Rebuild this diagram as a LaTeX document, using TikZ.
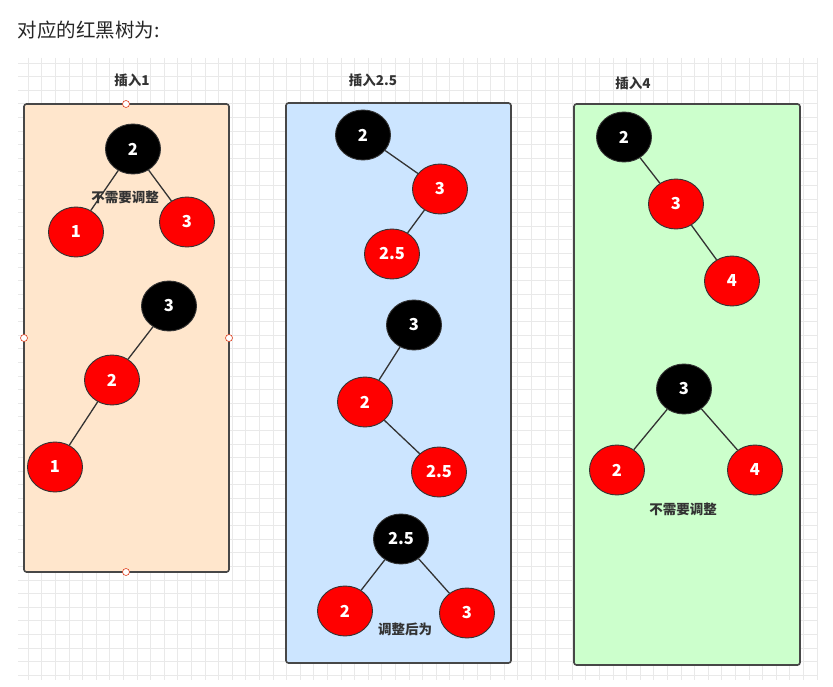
\documentclass[tikz,border=0pt]{standalone}
\usepackage{fontspec}
\setmainfont{Noto Sans CJK SC}
\usetikzlibrary{shapes.geometric}
\definecolor{peach}{HTML}{FFE6CC}
\definecolor{lblue}{HTML}{CCE5FF}
\definecolor{lgreen}{HTML}{CCFFCC}
\definecolor{edgec}{HTML}{333333}
\definecolor{gridc}{HTML}{E9E9E9}
\definecolor{labc}{HTML}{333333}
\tikzset{
  gridline/.style={draw=gridc, line width=0.6pt},
  panel/.style={draw=edgec!90, line width=1.6pt, rounded corners=2.5pt},
  rb/.style={ellipse, draw=edgec, line width=0.9pt, minimum width=55pt, minimum height=50pt, inner sep=0pt, text=white, font=\bfseries\fontsize{16.5}{16.5}\selectfont},
  blk/.style={rb, fill=black},
  red/.style={rb, fill=red},
  tedge/.style={draw=edgec, line width=1.3pt},
  lab/.style={text=labc, font=\bfseries\fontsize{13.5}{13.5}\selectfont},
  handle/.style={circle, draw=red!50!brown, fill=white, line width=0.6pt, minimum size=7pt, inner sep=0pt}
}
\begin{document}
\begin{tikzpicture}[x=1pt,y=-1pt]
\useasboundingbox (0,0) rectangle (833,687);
\fill[white] (0,0) rectangle (833,687);
% grid
\foreach \i in {0,...,58} {\draw[gridline] ({28+\i*13.6},58) -- ({28+\i*13.6},680);}
\foreach \j in {0,...,45} {\draw[gridline] (18,{63+\j*13.6}) -- (818,{63+\j*13.6});}
% title
\node[anchor=west, font=\fontsize{19.5}{19.5}\selectfont, text=black!85] (title) at (14,30) {对应的红黑树为:};
% panels
\draw[panel, fill=peach] (24,104) rectangle (229,572);
\draw[panel, fill=lblue] (286,103) rectangle (511,663);
\draw[panel, fill=lgreen] (574,104) rectangle (800,665);
\node[handle] (h1) at (126,104) {};
\node[handle] (h2) at (126,572) {};
\node[handle] (h3) at (24,338) {};
\node[handle] (h4) at (229,338) {};
% labels
\node[lab] (l1) at (132,80) {插入1};
\node[lab] (l2) at (373,80) {插入2.5};
\node[lab] (l3) at (633,83) {插入4};
% panel 1
\node[blk] (a2) at (133,149) {2};
\node[red] (a1) at (76,232) {1};
\node[red] (a3) at (187,222) {3};
\draw[tedge] (a2) -- (a1);
\draw[tedge] (a2) -- (a3);
\node[lab] (t1) at (125,197) {不需要调整};
\node[blk] (b3) at (169,306) {3};
\node[red] (b2) at (112,380) {2};
\node[red] (b1) at (55,467) {1};
\draw[tedge] (b3) -- (b2);
\draw[tedge] (b2) -- (b1);
% panel 2
\node[blk] (c2) at (363,135) {2};
\node[red] (c3) at (440,189) {3};
\node[red] (c25) at (392,254) {2.5};
\draw[tedge] (c2) -- (c3);
\draw[tedge] (c3) -- (c25);
\node[blk] (d3) at (414,325) {3};
\node[red] (d2) at (365,402) {2};
\node[red] (d25) at (439,472) {2.5};
\draw[tedge] (d3) -- (d2);
\draw[tedge] (d2) -- (d25);
\node[blk] (e25) at (401,539) {2.5};
\node[red] (e2) at (345,611) {2};
\node[red] (e3) at (467,613) {3};
\draw[tedge] (e25) -- (e2);
\draw[tedge] (e25) -- (e3);
\node[lab] (t2) at (405,629) {调整后为};
% panel 3
\node[blk] (f2) at (624,137) {2};
\node[red] (f3) at (676,204) {3};
\node[red] (f4) at (732,281) {4};
\draw[tedge] (f2) -- (f3);
\draw[tedge] (f3) -- (f4);
\node[blk] (g3) at (684,389) {3};
\node[red] (g2) at (617,470) {2};
\node[red] (g4) at (755,470) {4};
\draw[tedge] (g3) -- (g2);
\draw[tedge] (g3) -- (g4);
\node[lab] (t3) at (683,509) {不需要调整};
\end{tikzpicture}
\end{document}
